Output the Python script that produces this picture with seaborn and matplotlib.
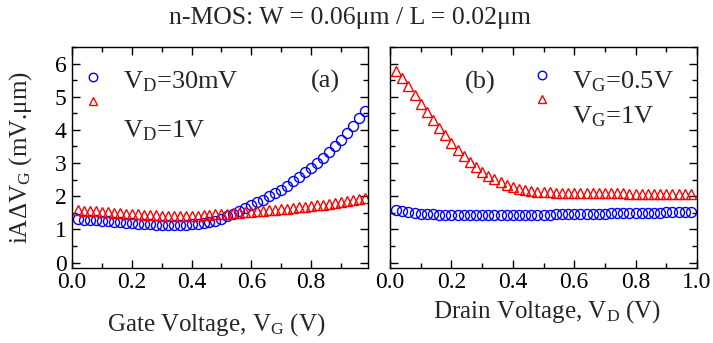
import matplotlib
matplotlib.use('Agg')
import matplotlib.pyplot as plt
import seaborn as sns
from matplotlib.ticker import MultipleLocator

sns.set_style('ticks')
plt.rcParams['font.family'] = ['Liberation Serif', 'DejaVu Serif']
plt.rcParams['mathtext.fontset'] = 'custom'
plt.rcParams['mathtext.rm'] = 'Liberation Serif'
plt.rcParams['mathtext.it'] = 'Liberation Serif:italic'

# bias sweep points (V), shared by both panels
v_sweep = [0.02, 0.04, 0.06, 0.08, 0.10, 0.12, 0.14, 0.16, 0.18, 0.20,
           0.22, 0.24, 0.26, 0.28, 0.30, 0.32, 0.34, 0.36, 0.38, 0.40,
           0.42, 0.44, 0.46, 0.48, 0.50, 0.52, 0.54, 0.56, 0.58, 0.60,
           0.62, 0.64, 0.66, 0.68, 0.70, 0.72, 0.74, 0.76, 0.78, 0.80,
           0.82, 0.84, 0.86, 0.88, 0.90, 0.92, 0.94, 0.96, 0.98]

# (a) vs gate voltage
gate_vd30mv = [1.30, 1.29, 1.28, 1.27, 1.26, 1.24, 1.23, 1.21, 1.20, 1.18,
               1.17, 1.16, 1.15, 1.14, 1.13, 1.13, 1.13, 1.13, 1.14, 1.15,
               1.17, 1.19, 1.22, 1.26, 1.31, 1.39, 1.47, 1.56, 1.65, 1.73,
               1.82, 1.90, 2.00, 2.10, 2.20, 2.32, 2.45, 2.58, 2.72, 2.86,
               3.00, 3.16, 3.32, 3.50, 3.70, 3.90, 4.12, 4.35, 4.58]
gate_vd1v = [1.57, 1.56, 1.55, 1.54, 1.52, 1.51, 1.50, 1.48, 1.47, 1.46,
             1.45, 1.44, 1.43, 1.42, 1.41, 1.40, 1.40, 1.40, 1.40, 1.41,
             1.41, 1.42, 1.43, 1.45, 1.46, 1.47, 1.49, 1.50, 1.52, 1.53,
             1.55, 1.56, 1.58, 1.59, 1.61, 1.63, 1.65, 1.67, 1.69, 1.71,
             1.73, 1.75, 1.77, 1.79, 1.82, 1.85, 1.88, 1.91, 1.95]

# (b) vs drain voltage
drain_vg05v = [1.60, 1.55, 1.51, 1.49, 1.47, 1.46, 1.45, 1.44, 1.43, 1.43,
               1.42, 1.42, 1.42, 1.42, 1.42, 1.42, 1.42, 1.42, 1.42, 1.43,
               1.43, 1.43, 1.43, 1.44, 1.44, 1.44, 1.45, 1.45, 1.45, 1.46,
               1.46, 1.46, 1.47, 1.47, 1.47, 1.48, 1.48, 1.48, 1.49, 1.49,
               1.49, 1.50, 1.50, 1.50, 1.51, 1.51, 1.51, 1.52, 1.52]
drain_vg1v = [5.78, 5.56, 5.32, 5.06, 4.77, 4.53, 4.30, 4.07, 3.84, 3.60,
              3.38, 3.20, 3.02, 2.87, 2.73, 2.61, 2.51, 2.42, 2.35, 2.28,
              2.23, 2.19, 2.16, 2.14, 2.13, 2.12, 2.11, 2.10, 2.10, 2.09,
              2.09, 2.09, 2.09, 2.09, 2.09, 2.09, 2.09, 2.09, 2.08, 2.08,
              2.08, 2.08, 2.08, 2.08, 2.08, 2.08, 2.08, 2.08, 2.08]

fig = plt.figure(figsize=(7.13, 3.43), dpi=100)
ax_a = fig.add_axes([0.101, 0.22, 0.415, 0.643])
ax_b = fig.add_axes([0.547, 0.22, 0.4306, 0.643])

circ = dict(marker='o', linestyle='none', markersize=7.2, markerfacecolor='none',
            markeredgecolor='blue', markeredgewidth=1.0, color='blue')
tri = dict(marker='^', linestyle='none', markersize=7.4, markerfacecolor='none',
           markeredgecolor='red', markeredgewidth=1.0, color='red')

sns.lineplot(x=v_sweep, y=gate_vd30mv, ax=ax_a, **circ)
sns.lineplot(x=v_sweep, y=gate_vd1v, ax=ax_a, **tri)
sns.lineplot(x=v_sweep, y=drain_vg05v, ax=ax_b, **circ)
sns.lineplot(x=v_sweep, y=drain_vg1v, ax=ax_b, **tri)

ax_a.set_xlim(0, 0.99)
ax_b.set_xlim(0, 1.0)
for ax in (ax_a, ax_b):
    ax.set_ylim(-0.15, 6.5)
    ax.xaxis.set_major_locator(MultipleLocator(0.2))
    ax.xaxis.set_minor_locator(MultipleLocator(0.1))
    ax.yaxis.set_major_locator(MultipleLocator(1))
    ax.yaxis.set_minor_locator(MultipleLocator(0.5))
    ax.tick_params(which='both', direction='in', top=True, right=True,
                   width=1, colors='black', labelsize=17, pad=4)
    ax.tick_params(which='major', length=6)
    ax.tick_params(which='minor', length=3.5)
    ax.tick_params(axis='x', pad=3)
    for s in ax.spines.values():
        s.set_linewidth(1.0)
        s.set_color('black')
    ax.set_xlabel('')
    ax.set_ylabel('')

ax_a.xaxis.set_major_formatter(plt.FuncFormatter(lambda v, p: f'{v:.1f}'))
ax_b.xaxis.set_major_formatter(plt.FuncFormatter(lambda v, p: f'{v:.1f}'))
ax_b.tick_params(labelleft=False)

ax_a.set_xlabel(r'Gate Voltage, V$_\mathrm{G}$ (V)', fontsize=18)
ax_a.xaxis.set_label_coords(0.486, -0.2)
ax_b.set_xlabel(r'Drain Voltage, V$_\mathrm{D}$ (V)', fontsize=18)
ax_b.xaxis.set_label_coords(0.511, -0.14)
ax_a.set_ylabel(r'iAΔV$_\mathrm{G}$ (mV.μm)', fontsize=18)
ax_a.yaxis.set_label_coords(-0.13, 0.5)

# legend markers, with the labels written beside them
leg_kw = dict(loc='upper left', frameon=False, handlelength=1, handletextpad=0,
              fontsize=12, labelspacing=0.47, borderpad=0, borderaxespad=0,
              markerscale=0.85)
ax_a.legend(handles=ax_a.lines[:2], labels=[' ', ' '],
            bbox_to_anchor=(0.043, 0.8905), **leg_kw)
ax_b.legend(handles=ax_b.lines[:2], labels=[' ', ' '],
            bbox_to_anchor=(0.467, 0.90), **leg_kw)

ax_a.text(0.172, 0.814, r'V$_\mathrm{D}$=30mV', fontsize=19, va='baseline', transform=ax_a.transAxes)
ax_a.text(0.172, 0.592, r'V$_\mathrm{D}$=1V', fontsize=19, va='baseline', transform=ax_a.transAxes)
ax_a.text(0.855, 0.814, '(a)', fontsize=19, va='baseline', ha='center', transform=ax_a.transAxes)
ax_b.text(0.592, 0.813, r'V$_\mathrm{G}$=0.5V', fontsize=19, va='baseline', transform=ax_b.transAxes)
ax_b.text(0.592, 0.654, r'V$_\mathrm{G}$=1V', fontsize=19, va='baseline', transform=ax_b.transAxes)
ax_b.text(0.293, 0.813, '(b)', fontsize=19, va='baseline', ha='center', transform=ax_b.transAxes)

fig.text(0.491, 0.947, 'n-MOS: W = 0.06μm / L = 0.02μm', fontsize=18.5,
         ha='center', va='center')

fig.savefig('out.png', dpi=100)
